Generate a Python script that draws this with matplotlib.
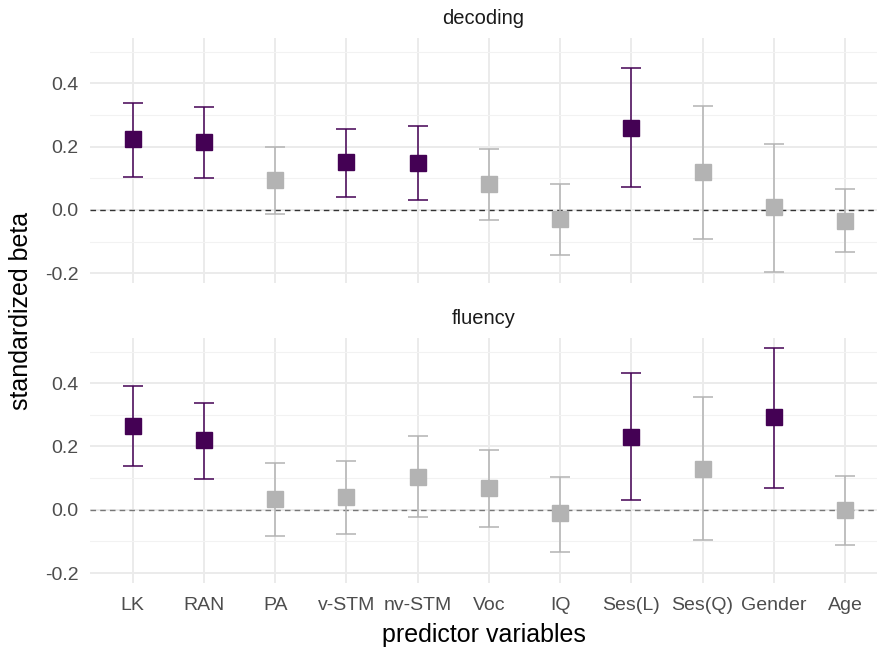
import numpy as np
import matplotlib.pyplot as plt
from matplotlib.ticker import MultipleLocator

plt.rcParams['font.family'] = ['Liberation Sans', 'DejaVu Sans']

predictors = ["LK", "RAN", "PA", "v-STM", "nv-STM", "Voc", "IQ",
              "Ses(L)", "Ses(Q)", "Gender", "Age"]

# decoding outcome
dec_beta = [0.223, 0.214, 0.095, 0.151, 0.147, 0.081, -0.029, 0.258, 0.120, 0.008, -0.034]
dec_low = [0.105, 0.102, -0.014, 0.042, 0.031, -0.033, -0.142, 0.073, -0.092, -0.195, -0.133]
dec_high = [0.339, 0.325, 0.200, 0.257, 0.264, 0.192, 0.081, 0.448, 0.329, 0.209, 0.066]
dec_sig = [True, True, False, True, True, False, False, True, False, False, False]

# fluency outcome
flu_beta = [0.265, 0.219, 0.034, 0.041, 0.105, 0.068, -0.011, 0.231, 0.128, 0.293, -0.001]
flu_low = [0.139, 0.097, -0.084, -0.076, -0.023, -0.054, -0.132, 0.031, -0.097, 0.068, -0.112]
flu_high = [0.392, 0.339, 0.149, 0.155, 0.234, 0.189, 0.105, 0.431, 0.355, 0.511, 0.108]
flu_sig = [True, True, False, False, False, False, False, True, False, True, False]

panels = [("decoding", dec_beta, dec_low, dec_high, dec_sig, "#333333"),
          ("fluency", flu_beta, flu_low, flu_high, flu_sig, "#777777")]

PURPLE = "#440154"
GREY = "#B3B3B3"

fig = plt.figure(figsize=(8.77, 6.48), dpi=100)
ax_top = fig.add_axes([0.1026, 0.5633, 0.8974, 0.3785])
ax_bot = fig.add_axes([0.1026, 0.1008, 0.8974, 0.3781])

x = np.arange(1, len(predictors) + 1)

for ax, (name, beta, low, high, sig, zcol) in zip([ax_top, ax_bot], panels):
    for xi, b, lo, hi, s in zip(x, beta, low, high, sig):
        col = PURPLE if s else GREY
        ax.errorbar(xi, b, yerr=[[b - lo], [hi - b]], fmt="none",
                    ecolor=col, elinewidth=1.1, capsize=7.5, capthick=1.1, zorder=3)
        ax.plot(xi, b, marker="s", markersize=12, color=col, linestyle="none", zorder=4)
    ax.axhline(0, color=zcol, linestyle=(0, (4, 3)), linewidth=1.0, zorder=2)

    ax.set_xlim(0.4, 11.45)
    ax.set_ylim(-0.2305, 0.544)
    ax.yaxis.set_minor_locator(MultipleLocator(0.1))
    ax.set_yticks([-0.2, 0.0, 0.2, 0.4])
    ax.set_yticklabels(["-0.2", "0.0", "0.2", "0.4"])
    ax.set_xticks(x)
    ax.grid(True, which="major", color="#EBEBEB", linewidth=1.4, zorder=0)
    ax.grid(True, which="minor", axis="y", color="#F2F2F2", linewidth=0.8, zorder=0)
    ax.set_axisbelow(True)
    for sp in ax.spines.values():
        sp.set_visible(False)
    ax.tick_params(which="both", length=0, labelsize=14, labelcolor="#4D4D4D", pad=8)
    ax.tick_params(axis="x", pad=10)
    ax.set_title(name, fontsize=14.5, color="#1A1A1A", pad=10)

ax_top.set_xticklabels([])
ax_bot.set_xticklabels(predictors)
ax_bot.set_xlabel("predictor variables", fontsize=18, labelpad=7)
fig.text(0.024, 0.52, "standardized beta", rotation=90, fontsize=18,
         ha="center", va="center")

fig.savefig("out.png", dpi=100)
